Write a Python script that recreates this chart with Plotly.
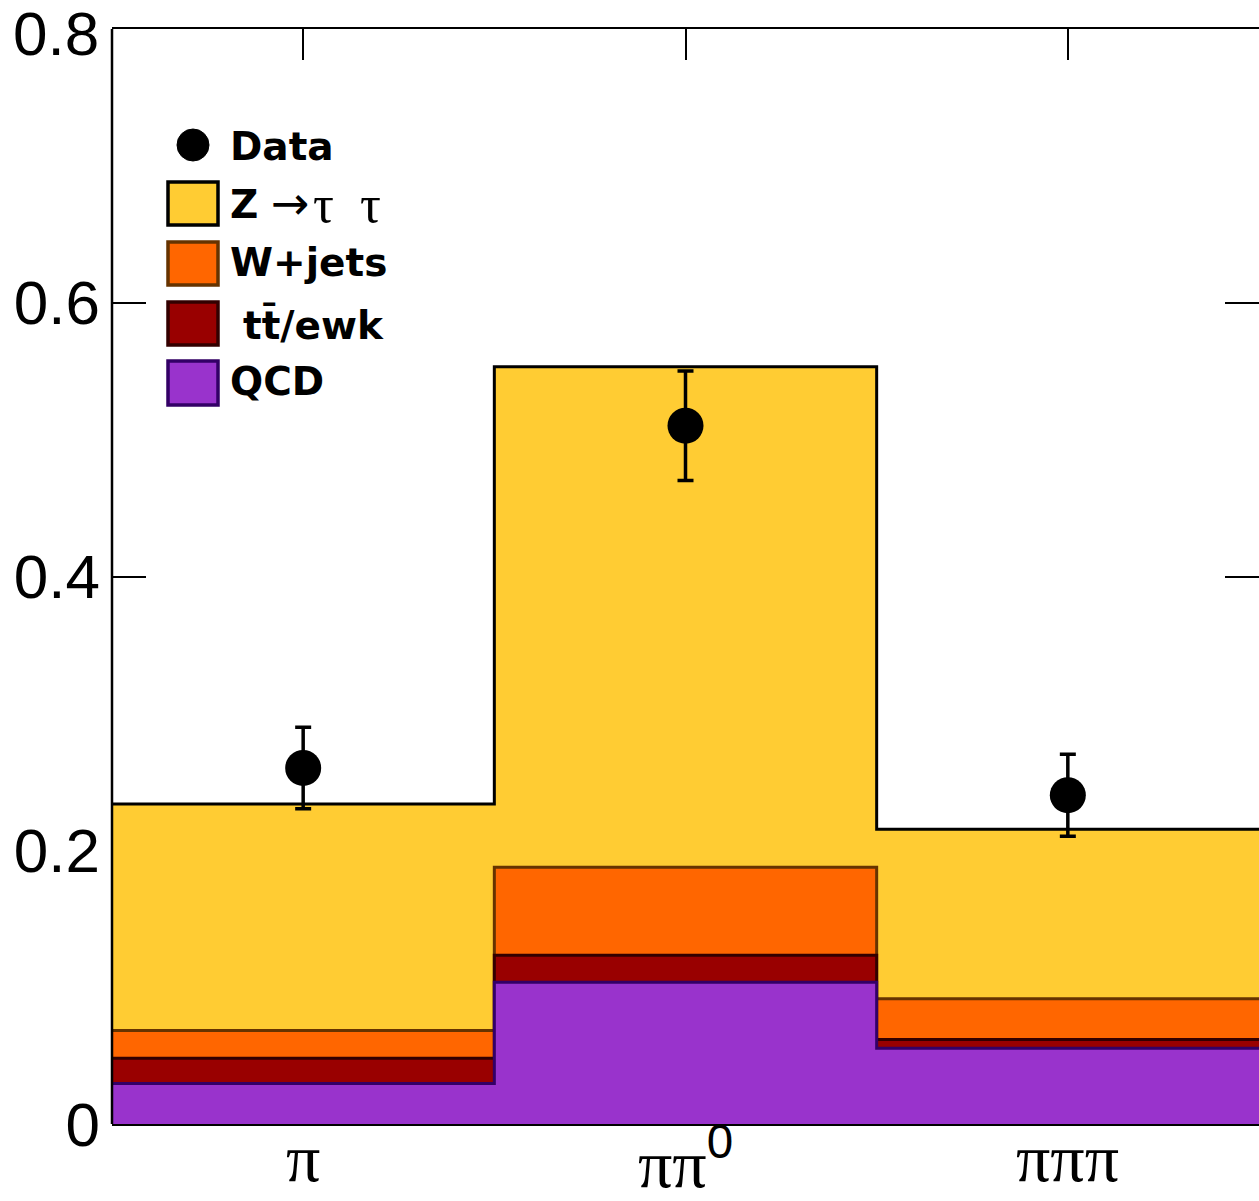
import plotly.graph_objects as go
import numpy as np

# ---- data ----
categories = ["π", "ππ<sup><span style='font-family:Liberation Sans'>0</span></sup>", "πππ"]
label_shift = [0, 5, 0]
bin_centers = [0, 1, 2]
bin_edges = [-0.5, 0.5, 1.5, 2.5]

qcd = [0.0296, 0.1035, 0.0554]
ttbar = [0.0185, 0.0197, 0.0064]
wjets = [0.0203, 0.0643, 0.0297]
ztautau = [0.1654, 0.3658, 0.1238]

data_vals = [0.2601, 0.5102, 0.2402]
data_err = [0.0298, 0.0400, 0.0300]

yticks = [0, 0.2, 0.4, 0.6, 0.8]
yticklabels = ["0", "0.2", "0.4", "0.6", "0.8"]

# ---- styles ----
colors = {"Z": "#FFCC33", "W": "#FF6600", "tt": "#990000", "QCD": "#9933CC"}
lcolors = {"Z": "#000000", "W": "#663300", "tt": "#330000", "QCD": "#330066"}

c_qcd = np.array(qcd)
c_tt = c_qcd + np.array(ttbar)
c_w = c_tt + np.array(wjets)
c_z = c_w + np.array(ztautau)

W, H = 1259, 1201
ML, MR, MT, MB = 112, 0, 29, 77
PW, PH = W - ML - MR, H - MT - MB


def px(x):
    return (x - ML) / PW


def py(y):
    return (H - MB - y) / PH


fig = go.Figure()

for key, cum in [("Z", c_z), ("W", c_w), ("tt", c_tt), ("QCD", c_qcd)]:
    yv = list(cum) + [cum[-1]]
    fig.add_trace(go.Scatter(
        x=bin_edges, y=yv, mode="lines", line_shape="hv",
        fill="tozeroy", fillcolor=colors[key],
        line=dict(color=lcolors[key], width=3),
        showlegend=False, hoverinfo="skip"))

fig.add_trace(go.Scatter(
    x=bin_centers, y=data_vals, mode="markers",
    marker=dict(color="black", size=36),
    error_y=dict(type="data", array=data_err, color="black", thickness=3.5, width=8),
    showlegend=False))

shapes = []
# left axis line
shapes.append(dict(type="line", xref="paper", yref="paper", x0=0, x1=0, y0=0, y1=1,
                   line=dict(color="black", width=2.5)))
# legend
shapes.append(dict(type="circle", xref="paper", yref="paper",
                   x0=px(177), x1=px(209), y0=py(161), y1=py(129),
                   fillcolor="black", line=dict(color="black", width=1)))
boxes = [("Z", 182, 225), ("W", 242, 285), ("tt", 302, 345), ("QCD", 361, 405)]
for key, y0, y1 in boxes:
    shapes.append(dict(type="rect", xref="paper", yref="paper",
                       x0=px(168), x1=px(218), y0=py(y1), y1=py(y0),
                       fillcolor=colors[key], line=dict(color=lcolors[key], width=3.5)))

leg_font = dict(family="DejaVu Sans", size=39, color="black")
annos = [
    ("<b>Data</b>", 228, 146),
    ("<b>Z</b>", 228, 204),
    ("<b>W+jets</b>", 228, 262),
    ("<b>tt\u0304/ewk</b>", 241, 325),
    ("<b>QCD</b>", 228, 382),
]
annotations = []
for txt, x, y in annos:
    annotations.append(dict(text=txt, xref="paper", yref="paper", x=px(x), y=py(y),
                            xanchor="left", yanchor="middle", showarrow=False, font=leg_font))
annotations.append(dict(text="\u2192", xref="paper", yref="paper", x=px(269), y=py(203),
                        xanchor="left", yanchor="middle", showarrow=False,
                        font=dict(family="DejaVu Sans", size=46, color="black")))
annotations.append(dict(text="\u03c4\u2002\u03c4", xref="paper", yref="paper", x=px(311), y=py(205),
                        xanchor="left", yanchor="middle", showarrow=False,
                        font=dict(family="Liberation Serif", size=52, color="black")))

# x category labels (top-aligned, so the superscript pushes the base down like ROOT)
for xc, lab, sh in zip(bin_centers, categories, label_shift):
    annotations.append(dict(text=lab, xref="x", yref="paper", x=xc, y=py(1118),
                            xanchor="center", yanchor="top", showarrow=False, yshift=sh,
                            font=dict(family="Liberation Serif", size=68, color="black")))

# top y label shifted inside like ROOT does
annotations.append(dict(text=yticklabels[-1], xref="paper", yref="y", x=px(101), y=yticks[-1],
                        xanchor="right", yanchor="middle", yshift=-4, showarrow=False,
                        font=dict(family="Liberation Sans", size=62, color="black")))

fig.update_layout(
    width=W, height=H,
    margin=dict(l=ML, r=MR, t=MT, b=MB, autoexpand=False),
    paper_bgcolor="white", plot_bgcolor="white",
    showlegend=False,
    shapes=shapes, annotations=annotations,
    xaxis=dict(range=[-0.5, 2.5], tickvals=bin_centers, showticklabels=False,
               ticks="inside", ticklen=31, tickwidth=2, tickcolor="black",
               showline=True, linecolor="black", linewidth=2, mirror="ticks",
               showgrid=False, zeroline=False, layer="below traces", automargin=False),
    yaxis=dict(range=[0, 0.8], tickvals=yticks, ticktext=yticklabels[:-1] + [""],
               ticks="inside", ticklen=34, tickwidth=2, tickcolor="black",
               showline=False, mirror="ticks", automargin=False,
               ticklabelstandoff=11, ticklabeloverflow="allow",
               showgrid=False, zeroline=False, layer="below traces",
               tickfont=dict(family="Liberation Sans", size=62, color="black")),
)

fig.write_html("out.html", config={"displayModeBar": False},
               post_script="document.body.style.margin='0';document.body.style.overflow='hidden';")
